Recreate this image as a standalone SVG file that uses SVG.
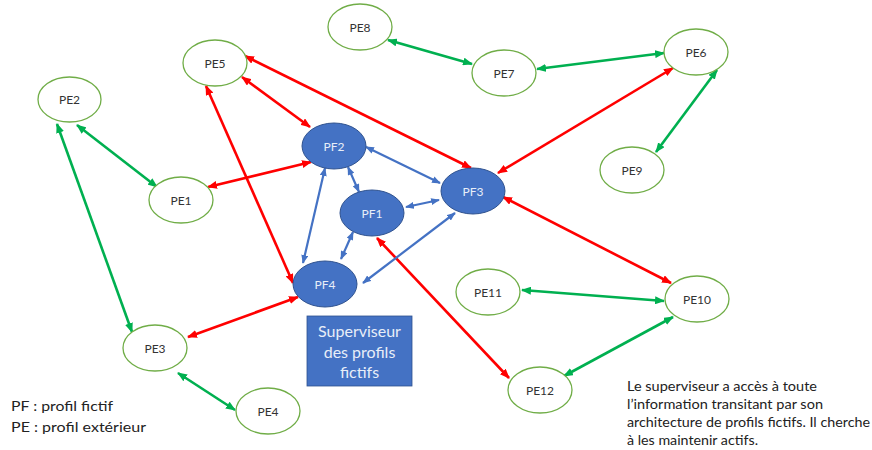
<svg xmlns="http://www.w3.org/2000/svg" width="872" height="450" viewBox="0 0 872 450">
  <style>
    .pe ellipse { fill: #ffffff; stroke: #70ad47; stroke-width: 1.3; }
    .pe text { fill: #333333; font-family: Lato, "Liberation Sans", sans-serif; font-size: 12px; text-anchor: middle; dominant-baseline: central; }
    .pf ellipse { fill: #4472c4; stroke: #2f528f; stroke-width: 1; }
    .pf text { fill: #e8eef8; font-family: Lato, "Liberation Sans", sans-serif; font-size: 12px; text-anchor: middle; dominant-baseline: central; }
    .g { stroke: #00b050; stroke-width: 2.6; marker-start: url(#ag); marker-end: url(#ag); }
    .r { stroke: #ff0000; stroke-width: 2.6; marker-start: url(#ar); marker-end: url(#ar); }
    .b { stroke: #4472c4; stroke-width: 2.2; marker-start: url(#ab); marker-end: url(#ab); }
    .note { fill: #222222; font-family: Lato, "Liberation Sans", sans-serif; font-size: 14px; }
  </style>
  <defs>
    <marker id="ag" viewBox="0 0 10 8" refX="9" refY="4" markerWidth="10" markerHeight="8" markerUnits="userSpaceOnUse" orient="auto-start-reverse"><path d="M0,0 L10,4 L0,8 z" fill="#00b050"/></marker>
    <marker id="ar" viewBox="0 0 10 8" refX="9" refY="4" markerWidth="10" markerHeight="8" markerUnits="userSpaceOnUse" orient="auto-start-reverse"><path d="M0,0 L10,4 L0,8 z" fill="#ff0000"/></marker>
    <marker id="ab" viewBox="0 0 10 8" refX="9" refY="4" markerWidth="9" markerHeight="7" markerUnits="userSpaceOnUse" orient="auto-start-reverse"><path d="M0,0 L10,4 L0,8 z" fill="#4472c4"/></marker>
  </defs>
  <rect width="872" height="450" fill="#ffffff"/>

  <!-- connectors -->
  <g id="connectors" fill="none">
    <!-- external links -->
    <line class="g" x1="77" y1="125" x2="157" y2="187"/>
    <line class="g" x1="57" y1="124" x2="132" y2="332"/>
    <line class="g" x1="178" y1="373" x2="235" y2="410"/>
    <line class="g" x1="388" y1="40" x2="472" y2="64"/>
    <line class="g" x1="537" y1="69" x2="664" y2="53"/>
    <line class="g" x1="717" y1="70" x2="656" y2="152"/>
    <line class="g" x1="522" y1="290" x2="664" y2="301"/>
    <line class="g" x1="673" y1="317" x2="564" y2="376"/>
    <!-- fictitious-to-external links -->
    <line class="r" x1="245" y1="56" x2="471" y2="168"/>
    <line class="r" x1="242" y1="77" x2="310" y2="127"/>
    <line class="r" x1="206" y1="86" x2="293" y2="283"/>
    <line class="r" x1="208" y1="187" x2="311" y2="162"/>
    <line class="r" x1="498" y1="173" x2="673" y2="68"/>
    <line class="r" x1="503" y1="197" x2="671" y2="283"/>
    <line class="r" x1="377" y1="238" x2="509" y2="378"/>
    <line class="r" x1="298" y1="297" x2="188" y2="337"/>
    <!-- fictitious-to-fictitious links -->
    <line class="b" x1="366" y1="147" x2="440" y2="183"/>
    <line class="b" x1="348" y1="167" x2="359" y2="192"/>
    <line class="b" x1="406" y1="207" x2="439" y2="200"/>
    <line class="b" x1="325" y1="168" x2="303" y2="263"/>
    <line class="b" x1="353" y1="232" x2="341" y2="259"/>
    <line class="b" x1="455" y1="213" x2="363" y2="283"/>
  </g>

  <!-- external profiles -->
  <g id="PE1" class="pe"><ellipse cx="181" cy="200" rx="32" ry="23"/><text x="181" y="200">PE1</text></g>
  <g id="PE2" class="pe"><ellipse cx="69.5" cy="99.5" rx="31.5" ry="22.5"/><text x="69.5" y="99.5">PE2</text></g>
  <g id="PE3" class="pe"><ellipse cx="155" cy="348" rx="32" ry="23"/><text x="155" y="348">PE3</text></g>
  <g id="PE4" class="pe"><ellipse cx="268" cy="411" rx="32" ry="23"/><text x="268" y="411">PE4</text></g>
  <g id="PE5" class="pe"><ellipse cx="215" cy="63" rx="32" ry="23"/><text x="215" y="63">PE5</text></g>
  <g id="PE6" class="pe"><ellipse cx="696" cy="52" rx="32" ry="23"/><text x="696" y="52">PE6</text></g>
  <g id="PE7" class="pe"><ellipse cx="504" cy="73" rx="32" ry="23"/><text x="504" y="73">PE7</text></g>
  <g id="PE8" class="pe"><ellipse cx="360" cy="27" rx="32" ry="23"/><text x="360" y="27">PE8</text></g>
  <g id="PE9" class="pe"><ellipse cx="632" cy="170" rx="32" ry="23"/><text x="632" y="170">PE9</text></g>
  <g id="PE10" class="pe"><ellipse cx="697" cy="299" rx="32" ry="23"/><text x="697" y="299">PE10</text></g>
  <g id="PE11" class="pe"><ellipse cx="488" cy="292" rx="32" ry="23"/><text x="488" y="292">PE11</text></g>
  <g id="PE12" class="pe"><ellipse cx="540" cy="390" rx="32" ry="23"/><text x="540" y="390">PE12</text></g>

  <!-- fictitious profiles -->
  <g id="PF1" class="pf"><ellipse cx="372" cy="213" rx="32" ry="23"/><text x="372" y="213">PF1</text></g>
  <g id="PF2" class="pf"><ellipse cx="334" cy="146" rx="32" ry="23"/><text x="334" y="146">PF2</text></g>
  <g id="PF3" class="pf"><ellipse cx="473" cy="191" rx="32" ry="23"/><text x="473" y="191">PF3</text></g>
  <g id="PF4" class="pf"><ellipse cx="325" cy="284" rx="32" ry="23"/><text x="325" y="284">PF4</text></g>

  <!-- supervisor box -->
  <g id="superviseur">
    <rect x="307" y="316" width="105" height="70" fill="#4472c4" stroke="#2f528f" stroke-width="0.8"/>
    <g fill="#e8eef8" font-family="Lato, 'Liberation Sans', sans-serif" font-size="16" text-anchor="middle" dominant-baseline="central">
      <text x="359.5" y="330">Superviseur</text>
      <text x="359.5" y="351">des profils</text>
      <text x="359.5" y="371">fictifs</text>
    </g>
  </g>

  <!-- legend -->
  <g id="legende">
    <text class="note" x="11" y="411" textLength="102" lengthAdjust="spacingAndGlyphs">PF : profil fictif</text>
    <text class="note" x="11" y="432" textLength="135" lengthAdjust="spacingAndGlyphs">PE : profil extérieur</text>
  </g>

  <!-- explanatory note -->
  <g id="note">
    <text class="note" x="627" y="391" textLength="190" lengthAdjust="spacingAndGlyphs">Le superviseur a accès à toute</text>
    <text class="note" x="627" y="409" textLength="196" lengthAdjust="spacingAndGlyphs">l’information transitant par son</text>
    <text class="note" x="627" y="427" textLength="243" lengthAdjust="spacingAndGlyphs">architecture de profils fictifs. Il cherche</text>
    <text class="note" x="627" y="445" textLength="131" lengthAdjust="spacingAndGlyphs">à les maintenir actifs.</text>
  </g>
</svg>
